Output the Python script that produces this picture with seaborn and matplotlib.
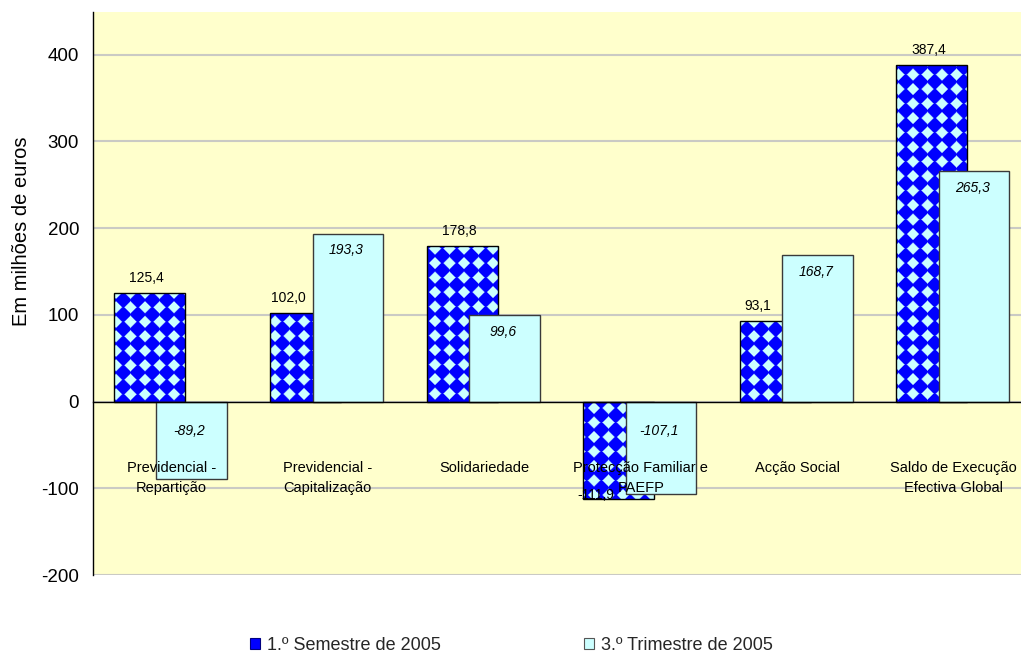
import numpy as np
import pandas as pd
import matplotlib
matplotlib.use("Agg")
import matplotlib.pyplot as plt
import seaborn as sns
from matplotlib.colors import to_rgb
from matplotlib.patches import Patch

# --- dados (milhões de euros) ---
categorias = [
    "Previdencial -\nRepartição",
    "Previdencial -\nCapitalização",
    "Solidariedade",
    "Protecção Familiar e\nPAEFP",
    "Acção Social",
    "Saldo de Execução\nEfectiva Global",
]
series = ["1.º Semestre de 2005", "3.º Trimestre de 2005"]
semestre_2005 = [125.4, 102.0, 178.8, -111.9, 93.1, 387.4]
trimestre_2005 = [-89.2, 193.3, 99.6, -107.1, 168.7, 265.3]
y_ticks = [-200, -100, 0, 100, 200, 300, 400]

AZUL = "#0000FF"
CIANO = "#CCFFFF"
FUNDO = "#FFFFCC"
GRELHA = "#CACAC4"

df = pd.DataFrame({
    "categoria": categorias * 2,
    "valor": semestre_2005 + trimestre_2005,
    "serie": [series[0]] * len(categorias) + [series[1]] * len(categorias),
})

sns.set_theme(style="white")
plt.rcParams["font.family"] = ["Liberation Sans", "DejaVu Sans"]

W_FIG, H_FIG, DPI = 1021, 655, 100
fig = plt.figure(figsize=(W_FIG / DPI, H_FIG / DPI), dpi=DPI)
fig.patch.set_facecolor("white")
ax = fig.add_axes([93 / W_FIG, (H_FIG - 575) / H_FIG, 939 / W_FIG, 563 / H_FIG])
ax.set_facecolor(FUNDO)

LARGURA = 0.452
sns.barplot(data=df, x="categoria", y="valor", hue="serie",
            order=categorias, hue_order=series, palette=[AZUL, CIANO],
            saturation=1, width=2 * LARGURA, dodge=True, legend=False,
            errorbar=None, ax=ax)

ax.set_xlim(-0.5, 5.5)
ax.set_ylim(-200, 449)

# separar as barras por série e sobrepô-las parcialmente
barras_sem = sorted([p for p in ax.patches if np.allclose(p.get_facecolor()[:3], to_rgb(AZUL))],
                    key=lambda p: p.get_x())
barras_tri = sorted([p for p in ax.patches if np.allclose(p.get_facecolor()[:3], to_rgb(CIANO))],
                    key=lambda p: p.get_x())
DESL_SEM, DESL_TRI = -0.14, 0.13
for i, b in enumerate(barras_sem):
    b.set_x(i + DESL_SEM - LARGURA / 2)
    b.set_width(LARGURA)
    b.set_facecolor("none")
    b.set_edgecolor("black")
    b.set_linewidth(1.0)
    b.set_zorder(1.2)
for i, b in enumerate(barras_tri):
    b.set_x(i + DESL_TRI - LARGURA / 2)
    b.set_width(LARGURA)
    b.set_edgecolor("#3a3a3a")
    b.set_linewidth(1.0)
    b.set_zorder(1.5)


def textura_losangos(barra, periodo=14.5, meia_diag=0.42):
    """Padrão azul com losangos claros, recortado pela barra."""
    bb = barra.get_window_extent()
    w = max(int(np.ceil(bb.width)), 1)
    h = max(int(np.ceil(bb.height)), 1)
    px = bb.x0 + np.arange(w) + 0.5
    py = bb.y1 - np.arange(h) - 0.5
    u = np.abs(np.mod(px, periodo) - periodo / 2)
    v = np.abs(np.mod(py, periodo) - periodo / 2)
    dist_canto = periodo - (u[None, :] + v[:, None])
    t = np.clip((meia_diag * periodo - dist_canto) / 1.6 + 0.5, 0, 1)[..., None]
    rgb = np.array(to_rgb(AZUL)) * (1 - t) + np.array(to_rgb(CIANO)) * t
    x0 = barra.get_x()
    y0, y1 = sorted([barra.get_y(), barra.get_y() + barra.get_height()])
    im = ax.imshow(rgb, extent=(x0, x0 + barra.get_width(), y0, y1), origin="upper",
                   aspect="auto", interpolation="antialiased", zorder=1.1)
    im.set_clip_path(barra)


for b in barras_sem:
    textura_losangos(b)

ax.set_xlim(-0.5, 5.5)
ax.set_ylim(-200, 449)

# eixos
for lado in ("top", "right"):
    ax.spines[lado].set_visible(False)
ax.spines["left"].set_color("black")
ax.spines["left"].set_linewidth(1.0)
ax.spines["bottom"].set_position(("data", 0))
ax.spines["bottom"].set_color("black")
ax.spines["bottom"].set_linewidth(1.0)
ax.set_xlabel("")
ax.set_xticks(range(len(categorias)), [""] * len(categorias))
ax.set_xticks(np.arange(-0.5, len(categorias), 1.0), minor=True)
ax.tick_params(axis="x", which="major", length=0)
ax.tick_params(axis="x", which="minor", direction="out", length=4, width=1, color="black")
ax.set_yticks(y_ticks, [str(t) for t in y_ticks])
ax.tick_params(axis="y", direction="out", length=5, width=1, color="black",
               labelsize=13.5, pad=5, labelcolor="black")
ax.set_axisbelow(True)
ax.yaxis.grid(True, color=GRELHA, linewidth=1.5)
ax.xaxis.grid(False)
ax.set_ylabel("Em milhões de euros", fontsize=14.5, color="black")
ax.yaxis.set_label_coords(-0.066, 0.61)

# nomes das categorias junto ao eixo zero (uma anotação por linha)
PX = 72 / DPI  # pontos por pixel
ALTURA_LINHA = 20 * PX
for i, nome in enumerate(categorias):
    for k, linha in enumerate(nome.split("\n")):
        ax.annotate(linha, xy=(i, 0), xytext=(0, -66 * PX - k * ALTURA_LINHA),
                    textcoords="offset points", ha="center", va="center",
                    fontsize=10.5, color="black", zorder=5)


def fmt(v):
    return f"{v:.1f}".replace(".", ",")


for i, (s, t) in enumerate(zip(semestre_2005, trimestre_2005)):
    xs = i + DESL_SEM
    xt = i + DESL_TRI
    # rótulo da primeira série
    dy = 15 if s >= 0 else 4
    dx = -3 if s >= 0 else -9
    tapado = (s * t > 0) and abs(t) >= abs(s) - 10
    if tapado:
        x_rot = ((xs - LARGURA / 2) + (xt - LARGURA / 2)) / 2
    else:
        x_rot = xs
    ax.annotate(fmt(s), xy=(x_rot, s), xytext=(dx * PX, dy * PX), textcoords="offset points",
                ha="center", va="center", fontsize=10, color="black", zorder=5)
    # rótulo da segunda série
    if t >= 0:
        y_ref, dy = t, -16.5
    else:
        y_ref, dy = 0, -29
    ax.annotate(fmt(t), xy=(xt, y_ref), xytext=(-2 * PX, dy * PX), textcoords="offset points",
                ha="center", va="center", fontsize=10, style="italic", color="black", zorder=5)

# legenda
pegas = [Patch(facecolor=AZUL, edgecolor="#000080", linewidth=0.8),
         Patch(facecolor=CIANO, edgecolor="#555555", linewidth=0.8)]
fig.legend(pegas, series, loc="center", bbox_to_anchor=(0.501, 1 - 645 / H_FIG),
           ncol=2, frameon=False, fontsize=13, handlelength=0.55, handleheight=0.55,
           handletextpad=0.4, columnspacing=7.95)

fig.savefig("out.png", dpi=DPI)
